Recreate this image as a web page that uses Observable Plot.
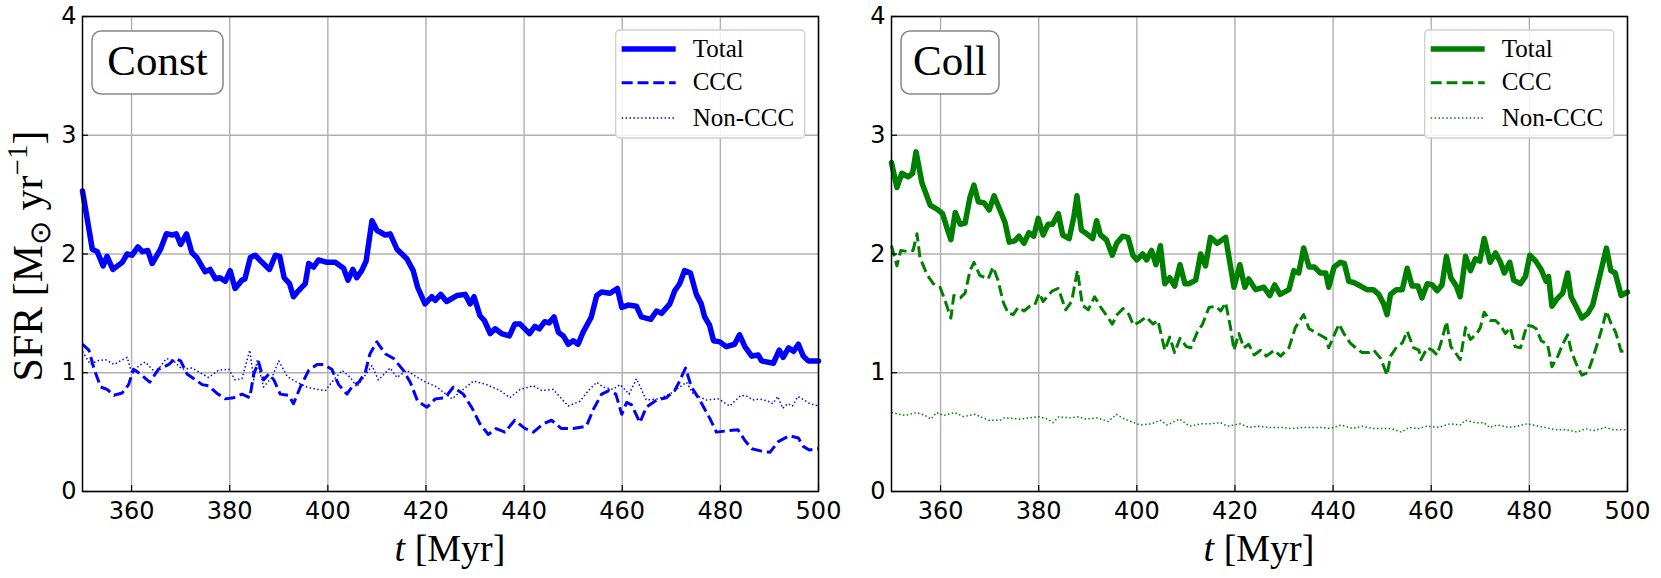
<!DOCTYPE html>
<html>
<head>
<meta charset="utf-8">
<script src="https://cdn.jsdelivr.net/npm/d3@7"></script>
<script src="https://cdn.jsdelivr.net/npm/@observablehq/plot@0.6"></script>
<style>
  html, body { margin: 0; padding: 0; background: #fff; }
  #wrap { position: relative; width: 1661px; height: 578px; overflow: hidden; }
  #wrap > svg, #wrap > figure { position: absolute; top: 0; margin: 0; }
</style>
</head>
<body>
<div id="wrap"></div>
<script>
// ---------------- data (t [Myr], SFR [Msun/yr]) ----------------
const xTicks = [360, 380, 400, 420, 440, 460, 480, 500];
const yTicks = [0, 1, 2, 3, 4];
const panelNames = ["Const", "Coll"];
const seriesNames = ["Total", "CCC", "Non-CCC"];

const constTotal = [[350,2.53],[352,2.04],[353,2.02],[354.2,1.90],[355,1.98],[356.2,1.87],[358.1,1.93],[359.1,2.00],[360.1,1.99],[361.3,2.06],[362.2,2.02],[363.3,2.03],[364.2,1.92],[365.9,2.04],[367.1,2.17],[368.3,2.16],[369.1,2.17],[370,2.08],[371.2,2.17],[372.3,2.01],[373.3,1.97],[375,1.85],[376,1.87],[377.1,1.79],[378,1.80],[379.1,1.77],[380.1,1.86],[381.1,1.71],[382.5,1.78],[383.1,1.79],[384.2,1.97],[385.2,1.99],[386.6,1.93],[388.1,1.87],[389.3,1.99],[390.2,1.98],[391.1,1.80],[392.2,1.75],[393,1.64],[394,1.69],[395.4,1.75],[396.1,1.92],[397.1,1.89],[398.1,1.95],[399.8,1.93],[401.5,1.93],[403.2,1.88],[404.1,1.78],[405.1,1.87],[405.9,1.80],[406.9,1.86],[407.8,1.94],[409,2.28],[410,2.20],[411.7,2.16],[412.7,2.17],[414.1,2.04],[416.1,1.96],[417.4,1.86],[418.3,1.72],[419.8,1.58],[421.2,1.64],[421.9,1.61],[423,1.66],[424.2,1.60],[426.3,1.65],[428,1.66],[429,1.58],[429.8,1.64],[431,1.48],[431.9,1.44],[433.1,1.33],[434.1,1.37],[435.4,1.33],[437,1.31],[438.1,1.41],[439.2,1.41],[441.1,1.33],[442.2,1.39],[443.1,1.37],[444.2,1.43],[445.1,1.42],[446.1,1.47],[447,1.34],[448,1.31],[449,1.24],[450,1.27],[451,1.24],[452,1.34],[453.7,1.47],[454.8,1.65],[455.8,1.68],[457.5,1.67],[459,1.71],[459.9,1.55],[461.2,1.57],[462.9,1.56],[463.9,1.47],[465.8,1.45],[467,1.52],[468,1.50],[469.7,1.58],[470.7,1.69],[471.7,1.75],[472.7,1.86],[473.9,1.84],[475.1,1.66],[476.1,1.58],[476.8,1.47],[477.8,1.40],[478.6,1.27],[479.9,1.26],[481.2,1.22],[482.9,1.24],[483.9,1.32],[485,1.22],[486.4,1.14],[487.7,1.15],[488.4,1.10],[490.8,1.08],[492,1.19],[492.8,1.13],[493.9,1.21],[494.9,1.18],[495.9,1.24],[496.9,1.14],[497.9,1.10],[500,1.10]];

const constCCC = [[350,1.24],[351.3,1.19],[352.3,1.04],[353.7,0.88],[355,0.86],[356.4,0.81],[358.1,0.83],[359.4,0.90],[360.4,1.03],[361.8,0.99],[363.7,0.92],[365.5,1.03],[367.6,1.07],[368.9,1.12],[370,1.10],[371.3,0.99],[372.7,0.95],[374.4,0.90],[375.7,0.89],[377.3,0.83],[379.1,0.78],[380.8,0.79],[382.5,0.82],[384.1,0.79],[384.9,0.99],[385.9,1.09],[386.9,0.94],[388,0.99],[389,0.94],[390.3,0.82],[392,0.81],[393,0.74],[394.4,0.88],[396.1,1.02],[397.8,1.07],[399.1,1.07],[400.8,1.03],[402.2,0.90],[403.9,0.82],[404.9,0.88],[406.3,0.92],[407.6,1.00],[408.6,1.16],[410,1.26],[411.7,1.16],[413.4,1.12],[415.4,1.02],[416.8,0.92],[418.3,0.76],[420.2,0.71],[421.9,0.78],[423.9,0.79],[425.6,0.88],[427.6,0.82],[429.3,0.71],[431,0.57],[432.7,0.48],[434.3,0.53],[436.1,0.50],[438.1,0.60],[440.2,0.53],[441.9,0.50],[443.9,0.57],[445.6,0.60],[447.6,0.53],[450,0.53],[452.7,0.55],[454.1,0.69],[455.8,0.82],[457.3,0.85],[458.7,0.82],[459.9,0.65],[460.9,0.75],[461.9,0.73],[463.6,0.58],[464.9,0.71],[467,0.77],[469,0.79],[470.7,0.85],[471.7,0.93],[472.9,1.04],[474.1,0.88],[475.8,0.77],[477.8,0.62],[479.2,0.50],[481.2,0.51],[483.6,0.52],[485,0.43],[486.4,0.36],[488.4,0.34],[490.1,0.33],[491.8,0.42],[494.1,0.47],[495.9,0.45],[496.9,0.38],[498.1,0.35],[500,0.36]];

const constNon = [[350,1.18],[351.6,1.07],[353,1.10],[354.7,1.11],[356.4,1.07],[359.1,1.13],[360.1,0.99],[361.5,1.06],[362.8,1.09],[364.9,1.00],[367.1,1.12],[368.6,1.10],[370.3,1.03],[372.3,1.04],[374,1.00],[375.7,0.96],[377.7,1.02],[379.8,1.03],[381.1,0.94],[382.5,0.95],[384.1,1.19],[384.9,0.94],[385.6,1.10],[386.9,0.88],[388.6,0.96],[390,1.10],[391.7,0.97],[393.7,0.92],[395.7,0.88],[397.8,0.86],[399.5,0.85],[400.8,0.92],[402.9,1.02],[404.6,0.96],[405.9,0.88],[407.3,0.96],[409,1.06],[410.3,0.94],[412.7,1.04],[414.1,0.96],[416.1,1.02],[417.5,0.98],[419.5,0.93],[422.2,0.88],[425.3,0.78],[427.3,0.85],[429.7,0.93],[432.4,0.90],[435.1,0.85],[437.1,0.79],[439.2,0.86],[441.9,0.89],[443.6,0.85],[445.9,0.86],[449,0.72],[451.4,0.76],[453.1,0.85],[454.8,0.92],[456.1,0.88],[458.1,0.86],[459.6,0.90],[461.4,0.82],[462.9,0.95],[464.9,0.77],[467.3,0.78],[469.7,0.82],[473.1,0.92],[474.5,0.82],[477.2,0.77],[479.6,0.78],[481.9,0.72],[484.2,0.81],[485.6,0.80],[486.6,0.77],[488,0.78],[489.7,0.76],[490.7,0.74],[491.7,0.80],[492.7,0.70],[493.7,0.74],[494.7,0.72],[495.8,0.80],[497.1,0.77],[498.2,0.74],[500,0.72]];

const collTotal = [[350,2.77],[351.1,2.56],[352.1,2.68],[353.4,2.65],[354.3,2.68],[355,2.86],[356.2,2.60],[357.9,2.41],[359.2,2.38],[360.4,2.34],[361.3,2.22],[362.1,2.12],[363,2.35],[364,2.25],[365,2.26],[366,2.48],[366.8,2.58],[367.7,2.44],[368.9,2.43],[369.9,2.37],[370.9,2.49],[372.1,2.37],[373.1,2.27],[374,2.10],[375.1,2.11],[376,2.15],[377,2.09],[378,2.18],[379,2.15],[379.9,2.30],[380.9,2.16],[381.9,2.25],[382.8,2.25],[384,2.34],[384.9,2.16],[386.2,2.13],[387.2,2.32],[387.8,2.49],[388.7,2.20],[389.8,2.17],[391,2.13],[391.8,2.28],[392.6,2.16],[393.8,2.12],[395,1.99],[395.9,2.09],[397.1,2.15],[398.2,2.14],[399.2,1.99],[400,1.95],[401.2,2.00],[402,1.95],[403,2.03],[403.9,1.91],[404.8,2.07],[405.7,1.75],[406.7,1.80],[407.7,1.73],[408.8,1.91],[409.8,1.75],[410.6,1.75],[412,1.78],[413,2.00],[414,1.90],[415,2.14],[416.4,2.09],[418.1,2.14],[419.8,1.72],[421,1.91],[422,1.72],[422.8,1.79],[424.2,1.70],[425.9,1.72],[427.1,1.65],[428.1,1.74],[429.2,1.66],[431,1.70],[432,1.86],[433,1.84],[434,2.05],[435.1,1.89],[436.2,1.89],[437.4,1.84],[438.5,1.84],[439.1,1.72],[440.2,1.89],[441.5,1.93],[442.3,1.92],[443.2,1.77],[444.2,1.76],[445.6,1.73],[446.9,1.70],[448.2,1.70],[449.3,1.66],[450.3,1.58],[451,1.49],[451.7,1.66],[452.9,1.70],[454.1,1.70],[455.1,1.88],[456.1,1.73],[457.3,1.73],[458.1,1.63],[459.2,1.75],[460.2,1.74],[461.2,1.69],[462.2,1.74],[463.1,1.98],[464,1.80],[465.1,1.73],[465.9,1.64],[467,1.98],[468,1.86],[469,1.96],[469.9,1.94],[470.8,2.13],[472,1.93],[473.1,2.01],[474.1,1.93],[474.9,1.84],[476,1.93],[476.8,1.78],[478.2,1.75],[479.2,1.81],[480.1,1.99],[481.3,1.94],[482.4,1.87],[483.4,1.77],[483.9,1.81],[484.6,1.56],[485.6,1.62],[486.8,1.67],[487.8,1.84],[488.5,1.64],[489.5,1.56],[490.7,1.46],[491.9,1.50],[492.9,1.57],[493.9,1.74],[494.9,1.91],[495.7,2.05],[496.6,1.86],[497.5,1.84],[498.7,1.65],[500,1.68]];

const collCCC = [[350,2.07],[351.1,1.90],[351.9,2.03],[353.4,2.02],[354.4,2.03],[355.2,2.17],[355.8,1.97],[357.2,1.83],[358.5,1.75],[359.9,1.72],[360.9,1.61],[362.1,1.46],[362.7,1.65],[364,1.63],[365,1.67],[366,1.86],[366.8,1.93],[368,1.82],[369.7,1.79],[370.7,1.89],[371.7,1.78],[372.8,1.59],[373.8,1.50],[374.8,1.49],[375.8,1.55],[377,1.52],[378.2,1.56],[379.2,1.57],[380.1,1.67],[380.9,1.60],[381.9,1.65],[382.8,1.69],[384,1.71],[385.5,1.53],[386.7,1.60],[387.9,1.86],[388.9,1.57],[390.1,1.53],[391.4,1.64],[392.5,1.56],[393.7,1.49],[395,1.41],[396,1.49],[397.2,1.54],[398.4,1.49],[399.3,1.40],[400.6,1.43],[401.9,1.47],[403.3,1.41],[404.3,1.44],[405.7,1.19],[406.7,1.30],[407.7,1.17],[408.8,1.29],[410.1,1.22],[411,1.21],[412.3,1.34],[413.4,1.41],[414.7,1.55],[416.1,1.56],[417.1,1.52],[418.1,1.59],[419.1,1.38],[419.8,1.19],[420.8,1.33],[421.8,1.21],[422.8,1.24],[423.9,1.15],[425.2,1.19],[426.4,1.14],[428,1.19],[429.3,1.14],[431,1.21],[432.3,1.38],[434,1.49],[435.1,1.37],[436.8,1.33],[438.5,1.29],[439.1,1.21],[441.2,1.41],[442.2,1.33],[443.5,1.25],[444.6,1.21],[445.9,1.17],[447.3,1.17],[448.3,1.19],[449.7,1.12],[451,0.98],[451.7,1.14],[453,1.22],[454.1,1.25],[455.1,1.35],[456.4,1.21],[457.5,1.19],[457.9,1.11],[459.2,1.21],[460.2,1.19],[461.2,1.15],[462.2,1.28],[463.1,1.43],[464,1.22],[464.9,1.17],[465.9,1.11],[467,1.38],[468,1.28],[469.3,1.33],[470,1.38],[470.8,1.51],[472,1.44],[473.1,1.44],[474.1,1.40],[475.1,1.33],[476.1,1.38],[477.1,1.22],[478.2,1.21],[479.5,1.40],[480.7,1.39],[481.4,1.37],[482.4,1.27],[483.7,1.24],[484.6,1.05],[485.8,1.14],[486.8,1.24],[487.8,1.32],[488.5,1.19],[489.5,1.08],[490.7,0.98],[491.9,1.00],[492.9,1.12],[493.9,1.25],[494.9,1.39],[495.7,1.52],[496.6,1.42],[497.6,1.34],[498.7,1.18],[500,1.19]];

const collNon = [[350,0.665],[352.8,0.64],[355.1,0.665],[356.9,0.64],[358,0.61],[359.2,0.665],[360.6,0.64],[362.9,0.665],[364.7,0.63],[367,0.65],[369.8,0.60],[372.1,0.60],[373,0.62],[376.3,0.61],[378.1,0.62],[380,0.63],[381.8,0.61],[382.9,0.58],[384.1,0.63],[386.4,0.62],[388.1,0.63],[389.6,0.61],[391.9,0.62],[394.2,0.59],[395.8,0.65],[397.5,0.61],[400.7,0.56],[403,0.57],[404.8,0.60],[406.2,0.56],[408.7,0.61],[410.8,0.55],[413.1,0.57],[415,0.57],[417,0.58],[418.5,0.55],[421,0.57],[422.8,0.54],[424.7,0.55],[427,0.54],[429.7,0.54],[431.6,0.53],[433.9,0.54],[437.6,0.54],[439.4,0.53],[441.7,0.56],[444,0.53],[445.9,0.55],[448.2,0.53],[451.8,0.53],[453.9,0.50],[455.5,0.54],[457.4,0.53],[459,0.55],[461.5,0.54],[463.8,0.57],[465.9,0.56],[467,0.60],[468.9,0.58],[470.7,0.58],[471.9,0.54],[473.5,0.56],[475.8,0.54],[477.6,0.55],[479.5,0.57],[482,0.55],[485.4,0.52],[487.5,0.52],[489.8,0.50],[491.5,0.53],[492.9,0.51],[495.6,0.54],[497,0.52],[500,0.52]];

// ---------------- drawing ----------------
const W = 1661, H = 578;
const MT = 16, MB = 87;
const styles = [
  {strokeWidth: 5.5, dash: null},
  {strokeWidth: 3, dash: "11,4.8"},
  {strokeWidth: 1.5, dash: "1.5,2.4"}
];
const intFmt = d => String(d);

function panel(series, color, left, width, mL, mR) {
  const lineMarks = series.map((data, i) => Plot.line(data, {
    x: d => d[0], y: d => d[1],
    stroke: color, strokeWidth: styles[i].strokeWidth,
    strokeDasharray: styles[i].dash,
    strokeLinejoin: "round", strokeLinecap: i === 0 ? "round" : "butt"
  }));
  const svg = Plot.plot({
    width, height: H,
    marginLeft: mL, marginRight: mR, marginTop: MT, marginBottom: MB,
    x: {domain: [350, 500]},
    y: {domain: [0, 4]},
    style: {fontFamily: "DejaVu Sans", fontSize: "24px", color: "black", background: "transparent", overflow: "visible"},
    marks: [
      Plot.gridX(xTicks, {stroke: "#b0b0b0", strokeOpacity: 1, strokeWidth: 1.4}),
      Plot.gridY(yTicks, {stroke: "#b0b0b0", strokeOpacity: 1, strokeWidth: 1.4}),
      ...lineMarks.reverse(),
      Plot.axisX(xTicks, {tickSize: 6, dy: -6, tickFormat: () => "", stroke: "black", strokeWidth: 1.2}),
      Plot.axisY(yTicks, {tickSize: 6, dx: 6, tickFormat: () => "", stroke: "black", strokeWidth: 1.2}),
      Plot.axisX(xTicks, {tickSize: 0, tickPadding: 10, tickFormat: intFmt, fill: "black"}),
      Plot.axisY(yTicks, {tickSize: 0, tickPadding: 6, tickFormat: intFmt, fill: "black"}),
      Plot.frame({stroke: "black", strokeWidth: 1.5})
    ]
  });
  svg.style.left = left + "px";
  return svg;
}

const wrap = document.getElementById("wrap");
wrap.appendChild(panel([constTotal, constCCC, constNon], "#0000ff", 0, 830, 82, 12));
wrap.appendChild(panel([collTotal, collCCC, collNon], "#008000", 830, 831, 61, 34));

// overlay: axis labels, panel tags, legends
const frames = [{x0: 82, x1: 818, color: "#0000ff"}, {x0: 891, x1: 1627, color: "#008000"}];
let ov = `<svg xmlns="http://www.w3.org/2000/svg" width="${W}" height="${H}" style="left:0;top:0;pointer-events:none" font-family="Liberation Serif">`;
frames.forEach((f, k) => {
  const cx = (f.x0 + f.x1) / 2;
  ov += `<text x="${cx}" y="561" text-anchor="middle" font-size="38" fill="black"><tspan font-style="italic">t</tspan> [Myr]</text>`;
  const bx = f.x0 + 10, bw = k === 0 ? 131 : 98;
  ov += `<rect x="${bx}" y="31" width="${bw}" height="63" rx="9" ry="9" fill="white" stroke="#888" stroke-width="1.5"/>`;
  ov += `<text x="${bx + bw / 2}" y="75" text-anchor="middle" font-size="43" fill="black">${panelNames[k]}</text>`;
  const lx = f.x0 + 533.7, ly = 30, lw = 189, lh = 108;
  ov += `<rect x="${lx}" y="${ly}" width="${lw}" height="${lh}" rx="4" ry="4" fill="white" fill-opacity="0.85" stroke="#cfcfcf" stroke-width="1.3"/>`;
  const rows = [49, 82.7, 118];
  rows.forEach((ry, i) => {
    const st = styles[i];
    ov += `<line x1="${lx + 6}" x2="${lx + 60}" y1="${ry}" y2="${ry}" stroke="${f.color}" stroke-width="${st.strokeWidth}" ${st.dash ? `stroke-dasharray="${st.dash}"` : ""}/>`;
    ov += `<text x="${lx + 77}" y="${ry + 7.5}" font-size="25" fill="black">${seriesNames[i]}</text>`;
  });
});
ov += `<text transform="translate(42,256) rotate(-90)" text-anchor="middle" font-size="42" fill="black">SFR [M<tspan font-size="29" dy="8">⊙</tspan><tspan dy="-8"> yr</tspan><tspan font-size="29" dy="-15">−1</tspan><tspan dy="15">]</tspan></text>`;
ov += `</svg>`;
wrap.insertAdjacentHTML("beforeend", ov);
</script>
</body>
</html>
